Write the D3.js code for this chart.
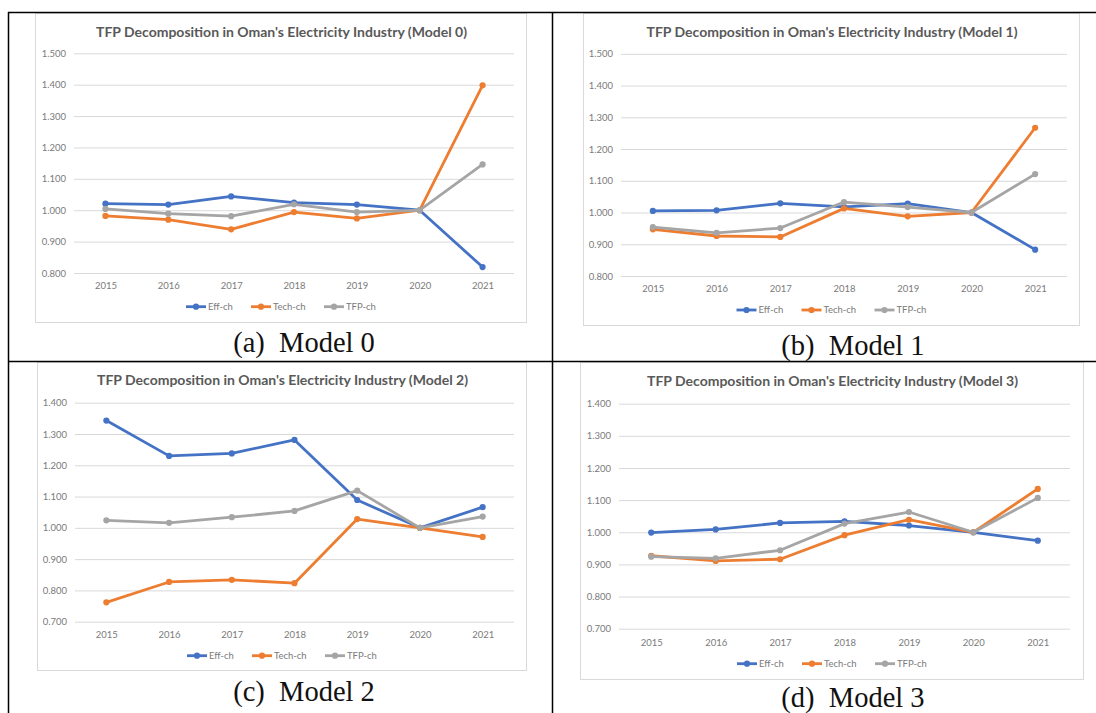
<!DOCTYPE html>
<html><head><meta charset="utf-8">
<script src="https://cdn.jsdelivr.net/npm/d3@7"></script>
<style>html,body{margin:0;padding:0;background:#fff;}svg{display:block;}</style>
</head><body>
<svg id="chart" width="1096" height="713"></svg>
<script>
// ---------- DATA ----------
const years = ["2015","2016","2017","2018","2019","2020","2021"];
const seriesNames = ["Eff-ch","Tech-ch","TFP-ch"];
const seriesColors = ["#4472C4","#ED7D31","#A5A5A5"];

const eff0  = [1.021,1.018,1.044,1.024,1.018,1.000,0.819];
const tech0 = [0.982,0.970,0.939,0.994,0.974,1.000,1.398];
const tfp0  = [1.004,0.989,0.981,1.019,0.994,1.000,1.146];

const eff1  = [1.005,1.007,1.029,1.018,1.028,1.000,0.883];
const tech1 = [0.947,0.926,0.923,1.013,0.988,1.000,1.267];
const tfp1  = [0.954,0.936,0.951,1.033,1.017,1.000,1.121];

const eff2  = [1.343,1.230,1.238,1.281,1.089,1.000,1.066];
const tech2 = [0.762,0.827,0.834,0.823,1.028,1.000,0.971];
const tfp2  = [1.024,1.016,1.034,1.054,1.119,1.000,1.036];

const eff3  = [0.999,1.009,1.029,1.034,1.021,1.000,0.974];
const tech3 = [0.927,0.911,0.916,0.991,1.039,1.000,1.135];
const tfp3  = [0.924,0.919,0.944,1.027,1.063,1.000,1.107];

const ticksTop    = [0.8,0.9,1.0,1.1,1.2,1.3,1.4,1.5];
const ticksBottom = [0.7,0.8,0.9,1.0,1.1,1.2,1.3,1.4];

const titles = [
  "TFP Decomposition in Oman's Electricity Industry (Model 0)",
  "TFP Decomposition in Oman's Electricity Industry (Model 1)",
  "TFP Decomposition in Oman's Electricity Industry (Model 2)",
  "TFP Decomposition in Oman's Electricity Industry (Model 3)"
];
const captions = ["(a)\u00a0 Model 0","(b)\u00a0 Model 1","(c)\u00a0 Model 2","(d)\u00a0 Model 3"];

// ---------- LAYOUT ----------
const panels = [
  {series:[eff0,tech0,tfp0], ticks:ticksTop,
   box:[35,13,526,322], plot:[74,53.3,514,273], titleY:31.7, xLabY:285.7, legY:306.7,
   capX:304, capY:352},
  {series:[eff1,tech1,tfp1], ticks:ticksTop,
   box:[583,13,1079,325], plot:[621,53.8,1067,276], titleY:31.7, xLabY:289, legY:310,
   capX:853, capY:355},
  {series:[eff2,tech2,tfp2], ticks:ticksBottom,
   box:[37,362,526,670], plot:[75,402.7,514,621.7], titleY:380.5, xLabY:634.7, legY:655.7,
   capX:304, capY:701},
  {series:[eff3,tech3,tfp3], ticks:ticksBottom,
   box:[580,362,1083,679], plot:[619,403.7,1070,628.7], titleY:381, xLabY:642.7, legY:663.7,
   capX:853, capY:707}
];

const svg = d3.select("#chart");
const fontSans = "Lato, 'Open Sans', sans-serif";

panels.forEach((p, i) => {
  const g = svg.append("g");
  const [bx0,by0,bx1,by1] = p.box;
  g.append("rect").attr("x",bx0+0.5).attr("y",by0+0.5)
    .attr("width",bx1-bx0).attr("height",by1-by0)
    .attr("fill","#fff").attr("stroke","#D9D9D9").attr("stroke-width",1);

  const [px0,py0,px1,py1] = p.plot;
  const x = d3.scalePoint().domain(years).range([px0,px1]).padding(0.5);
  const y = d3.scaleLinear().domain([d3.min(p.ticks), d3.max(p.ticks)]).range([py1,py0]);

  // gridlines
  const grid = g.append("g").attr("transform",`translate(${px0},0)`)
    .call(d3.axisLeft(y).tickValues(p.ticks).tickSize(-(px1-px0)).tickFormat(""));
  grid.select(".domain").remove();
  grid.selectAll(".tick line").attr("stroke","#D9D9D9").attr("stroke-width",1);

  // y labels
  const ya = g.append("g").attr("transform",`translate(${px0-8},0)`)
    .call(d3.axisLeft(y).tickValues(p.ticks).tickSize(0).tickFormat(d3.format(".3f")));
  ya.select(".domain").remove();
  ya.selectAll("text").attr("fill","#7a7a7a").attr("font-size","9.5px")
    .attr("font-family",fontSans).attr("x",0);

  // x labels
  const xa = g.append("g").attr("transform",`translate(0,${p.xLabY})`)
    .call(d3.axisBottom(x).tickSize(0));
  xa.select(".domain").remove();
  xa.selectAll("text").attr("fill","#7a7a7a").attr("font-size","9.5px")
    .attr("font-family",fontSans).attr("y",0).attr("dy","0.35em");

  // title
  g.append("text").attr("x",(bx0+bx1)/2 + 1).attr("y",p.titleY).attr("dy","0.35em")
    .attr("text-anchor","middle").attr("font-family",fontSans).attr("font-weight","bold")
    .attr("font-size","14px").attr("fill","#595959").text(titles[i]);

  // lines
  const line = d3.line().x((d,j)=>x(years[j])).y(d=>y(d));
  p.series.forEach((vals, s) => {
    g.append("path").datum(vals).attr("d",line).attr("fill","none")
      .attr("stroke",seriesColors[s]).attr("stroke-width",2.8)
      .attr("stroke-linejoin","round").attr("stroke-linecap","round");
    g.selectAll(null).data(vals).enter().append("circle")
      .attr("cx",(d,j)=>x(years[j])).attr("cy",d=>y(d)).attr("r",3.1)
      .attr("fill",seriesColors[s]);
  });

  // legend
  const legW = [23+33, 23+41, 23+34];
  const gap = 9;
  const total = d3.sum(legW) + gap*2;
  let lx = (bx0+bx1)/2 - total/2 + 3;
  seriesNames.forEach((nm, s) => {
    const lg = g.append("g").attr("transform",`translate(${lx},${p.legY})`);
    lg.append("line").attr("x1",0).attr("x2",20).attr("y1",0).attr("y2",0)
      .attr("stroke",seriesColors[s]).attr("stroke-width",2.8);
    lg.append("circle").attr("cx",10).attr("cy",0).attr("r",3.1).attr("fill",seriesColors[s]);
    lg.append("text").attr("x",22).attr("y",0).attr("dy","0.35em")
      .attr("font-family",fontSans).attr("font-size","9.5px").attr("fill","#7a7a7a").text(nm);
    lx += legW[s] + gap;
  });

  // caption
  g.append("text").attr("x",p.capX).attr("y",p.capY).attr("text-anchor","middle")
    .attr("font-family","'Liberation Serif', 'Times New Roman', serif")
    .attr("font-size","28.5px").attr("fill","#111").text(captions[i]);
});

// table rules
const rules = svg.append("g").attr("stroke","#000").attr("stroke-width",1.5);
rules.append("line").attr("x1",8).attr("x2",1096).attr("y1",12.5).attr("y2",12.5);
rules.append("line").attr("x1",8).attr("x2",1096).attr("y1",361.5).attr("y2",361.5);
rules.append("line").attr("x1",8.5).attr("x2",8.5).attr("y1",12).attr("y2",713);
rules.append("line").attr("x1",552.5).attr("x2",552.5).attr("y1",12).attr("y2",713);
</script>
</body></html>
